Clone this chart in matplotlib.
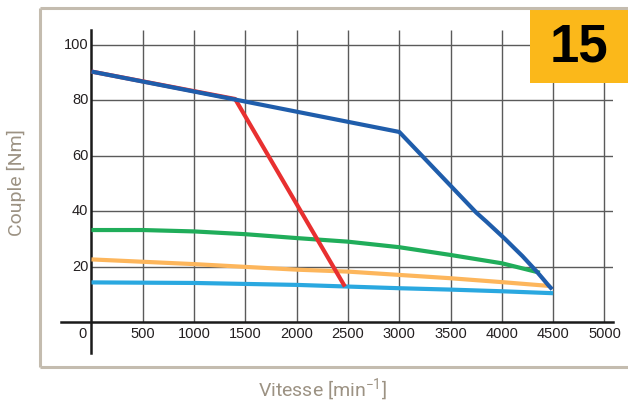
import matplotlib
matplotlib.use("Agg")
import matplotlib.pyplot as plt
from matplotlib.lines import Line2D
from matplotlib.patches import Rectangle

plt.rcParams['mathtext.fontset'] = 'custom'
plt.rcParams['mathtext.rm'] = 'Roboto'

# ---- data ----
x_ticks = [500, 1000, 1500, 2000, 2500, 3000, 3500, 4000, 4500, 5000]
y_ticks = [20, 40, 60, 80, 100]

blue_x = [0, 1400, 3000, 3750, 3850, 3940, 4030, 4120, 4200, 4270, 4340, 4400, 4450, 4490]
blue_y = [90.4, 80.3, 68.6, 39.5, 36.2, 33.1, 30.0, 26.7, 23.8, 21.0, 18.2, 15.6, 13.4, 11.8]

red_x = [0, 1400, 2470]
red_y = [90.4, 80.5, 12.8]

green_x = [0, 500, 1000, 1500, 2000, 2500, 3000, 3500, 4000, 4370]
green_y = [33.2, 33.2, 32.7, 31.7, 30.3, 29.0, 27.0, 24.2, 21.2, 17.8]

orange_x = [0, 1000, 2000, 2500, 3000, 3500, 4000, 4470]
orange_y = [22.6, 20.9, 18.9, 18.2, 17.0, 15.8, 14.4, 13.0]

lblue_x = [0, 1000, 2000, 2500, 3000, 3500, 4000, 4500]
lblue_y = [14.3, 14.1, 13.4, 12.8, 12.2, 11.7, 11.1, 10.4]

W, H = 628, 408
fig = plt.figure(figsize=(W / 100, H / 100), dpi=100)
fig.patch.set_facecolor('white')

left_px, right_px, top_px, bot_px = 60.7, 612.7, 30.0, 352.5
ax = fig.add_axes([left_px / W, 1 - bot_px / H, (right_px - left_px) / W, (bot_px - top_px) / H])
ax.set_xlim(-300, 5080)
ax.set_ylim(-11, 105.4)
ax.set_facecolor('none')

grid_c = '#5a5a5a'
ax.vlines(x_ticks, 0, 105.4, color=grid_c, lw=1.0, zorder=1)
ax.hlines(y_ticks, 0, 5080, color=grid_c, lw=1.0, zorder=1)

for s in ['top', 'right']:
    ax.spines[s].set_visible(False)
ax.spines['left'].set_position(('data', 0))
ax.spines['bottom'].set_position(('data', 0))
for s in ['left', 'bottom']:
    ax.spines[s].set_linewidth(1.8)
    ax.spines[s].set_color('#1a1a1a')
    ax.spines[s].set_zorder(2)

ax.set_xticks([])
ax.set_yticks([])

lw = 3.0
ax.plot(lblue_x, lblue_y, color='#2aa8e0', lw=lw, zorder=3, solid_capstyle='butt')
ax.plot(orange_x, orange_y, color='#fdb65c', lw=lw, zorder=3, solid_capstyle='butt')
ax.plot(green_x, green_y, color='#20ad5a', lw=lw, zorder=3, solid_capstyle='butt')
ax.plot(red_x, red_y, color='#e83030', lw=lw, zorder=4, solid_capstyle='butt')
ax.plot(blue_x, blue_y, color='#1f5dab', lw=lw, zorder=5, solid_capstyle='butt',
        solid_joinstyle='round')

tick_font = dict(family='Liberation Sans', fontsize=10.5, color='#231f20')
for xv in x_ticks:
    ax.text(xv, -4.4, str(xv), ha='center', va='center', **tick_font)
ax.text(-90, -4.4, '0', ha='center', va='center', **tick_font)
for yv in y_ticks:
    ax.text(-30, yv, str(yv), ha='right', va='center', **tick_font)

# frame
fc = '#c4bcaf'
flw = 2.2
def fl(x0, y0, x1, y1):
    fig.add_artist(Line2D([x0 / W, x1 / W], [1 - y0 / H, 1 - y1 / H], color=fc, lw=flw,
                          transform=fig.transFigure, solid_capstyle='butt'))
fl(40, 8, 640, 8)
fl(40, 367, 640, 367)
fl(40, 8, 40, 367)

# badge
fig.add_artist(Rectangle((530 / W, 1 - 83 / H), 100 / W, 74 / H, transform=fig.transFigure,
                         facecolor='#fbb81a', edgecolor='none'))
fig.text(579 / W, 1 - 47 / H, '15', ha='center', va='center', family='Liberation Sans',
         fontweight='bold', fontsize=38, color='black')

lab_c = '#9c9283'
fig.text(16 / W, 1 - 183 / H, 'Couple [Nm]', rotation=90, ha='center', va='center',
         family='Roboto', fontsize=14, color=lab_c)
fig.text(322 / W, 1 - 390 / H, 'Vitesse [min$^{\\mathrm{-1}}$]', ha='center', va='center',
         family='Roboto', fontsize=14, color=lab_c)

fig.savefig('out.png', dpi=100)
